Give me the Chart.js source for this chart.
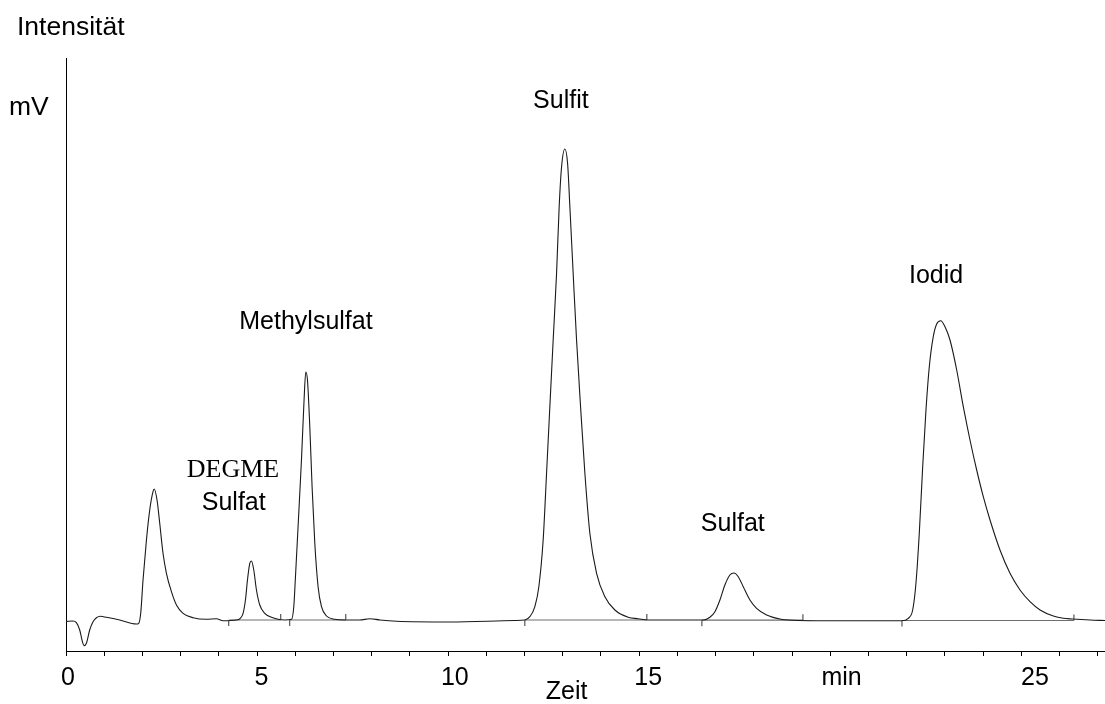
<!DOCTYPE html>
<html>
<head>
<meta charset="utf-8">
<title>Ionenchromatogramm</title>
<script src="https://cdn.jsdelivr.net/npm/chart.js@4.4.1/dist/chart.umd.min.js"></script>
<style>
  html, body { margin: 0; padding: 0; background: #fff; }
  #wrap { width: 1105px; height: 704px; }
</style>
</head>
<body>
<div id="wrap"><canvas id="chart" width="1105" height="704"></canvas></div>
<script>
// Retention time (min) and detector signal (mV) of the chromatogram trace
const timeMin = [
  0.000, 0.183, 0.272, 0.359, 0.429, 0.471, 0.534, 0.620, 0.707, 0.796,
  0.901, 1.058, 1.406, 1.843, 1.903, 1.955, 2.016, 2.105, 2.191, 2.277,
  2.309, 2.382, 2.453, 2.539, 2.628, 2.759, 2.890, 3.063, 3.325, 3.675,
  3.937, 4.110, 4.461, 4.560, 4.634, 4.696, 4.749, 4.809, 4.853, 4.914,
  4.984, 5.071, 5.202, 5.377, 5.550, 5.725, 5.901, 5.961, 6.005, 6.073,
  6.162, 6.230, 6.275, 6.319, 6.380, 6.440, 6.511, 6.597, 6.686, 6.817,
  7.034, 7.296, 7.688, 7.950, 8.212, 8.649, 10.044, 11.746, 12.007, 12.139,
  12.270, 12.374, 12.487, 12.576, 12.662, 12.749, 12.838, 12.906, 12.969, 13.055,
  13.126, 13.186, 13.272, 13.361, 13.466, 13.579, 13.709, 13.885, 14.102, 14.364,
  14.712, 14.974, 15.236, 16.589, 16.675, 16.851, 16.982, 17.113, 17.243, 17.374,
  17.479, 17.592, 17.723, 17.898, 18.073, 18.335, 18.683, 19.031, 19.644, 20.777,
  21.869, 22.042, 22.157, 22.243, 22.330, 22.419, 22.505, 22.592, 22.696, 22.785,
  22.890, 23.003, 23.134, 23.309, 23.482, 23.657, 23.832, 24.005, 24.181, 24.442,
  24.704, 24.966, 25.228, 25.490, 25.838, 26.099, 26.335, 26.798, 27.190
];
const signalMV = [
  -0.05, 0.00, -0.17, -0.90, -2.07, -2.47, -2.23, -0.90, -0.07, 0.33,
  0.47, 0.37, 0.10, -0.30, -0.23, 0.77, 4.10, 8.10, 11.10, 12.93,
  13.20, 12.10, 9.77, 6.77, 4.77, 2.93, 1.60, 0.77, 0.33, 0.17,
  0.23, 0.03, 0.10, 0.27, 0.77, 2.10, 4.10, 5.77, 6.00, 5.10,
  3.10, 1.60, 0.77, 0.37, 0.17, 0.10, 0.17, 1.43, 4.43, 9.43,
  16.10, 22.10, 24.90, 24.10, 19.43, 13.43, 7.77, 3.43, 1.43, 0.50,
  0.17, 0.10, 0.10, 0.23, 0.10, -0.03, -0.10, 0.05, 0.10, 0.43,
  1.43, 3.43, 8.10, 14.77, 21.43, 28.10, 34.77, 41.43, 45.43, 47.20,
  45.77, 41.43, 34.77, 28.10, 21.43, 14.77, 8.77, 4.77, 2.43, 1.10,
  0.37, 0.23, 0.10, 0.10, 0.10, 0.37, 0.93, 2.10, 3.60, 4.60,
  4.80, 4.43, 3.43, 2.10, 1.27, 0.60, 0.20, 0.07, 0.03, 0.03,
  0.03, 0.27, 1.10, 3.77, 8.77, 15.43, 21.10, 25.43, 28.43, 29.70,
  30.03, 29.43, 28.10, 25.10, 21.43, 18.10, 15.10, 12.43, 10.10, 7.10,
  4.77, 3.10, 1.93, 1.10, 0.50, 0.27, 0.20, 0.10, 0.05
];

// Integration limits of the evaluated peaks (min) and baseline level (mV)
const peakStart = [4.259, 5.855, 12.008, 16.641, 21.877];
const peakEnd   = [5.620, 7.322, 15.201, 19.285, 26.377];
const baseLevel = [0.10, 0.10, 0.10, 0.08, 0.05];

// Peak names and where they are written (min, mV)
const peakNames  = ['DEGME', 'Sulfat', 'Methylsulfat', 'Sulfit', 'Sulfat', 'Iodid'];
const nameTimes  = [4.37, 4.39, 6.28, 12.95, 17.45, 22.77];
const nameLevels = [15.1, 11.8, 29.9, 52.0, 9.7, 34.5];
const nameFonts  = ['serif', 'sans', 'sans', 'sans', 'sans', 'sans'];

// Time axis: minor tick every minute, labels on the printer's own label grid
const tickTimes  = [0, 5, 10, 15, 20, 25];
const tickTexts  = ['0', '5', '10', '15', 'min', '25'];

const X_MAX = 27.19;
// label grid of the printout runs slightly wider than the minute ticks
const LABEL_MIN = -0.052, LABEL_MAX = 26.81;
const Y_MIN = -3.0, Y_MAX = 56.3;

const SANS = '"Liberation Sans", Arial, sans-serif';
const SERIF = '"Liberation Serif", "Times New Roman", serif';

const trace = timeMin.map((t, i) => ({ x: t, y: signalMV[i] }));

// Integration baselines: one segment per peak, separated by gaps
const baselines = [];
peakStart.forEach((s, i) => {
  baselines.push({ x: s, y: baseLevel[i] });
  baselines.push({ x: peakEnd[i], y: baseLevel[i] });
  baselines.push({ x: peakEnd[i] + 0.001, y: null });
});

// Short markers: below the baseline at peak start, above it at peak end
const startMarks = peakStart.map((s, i) => ({ x: s, y: baseLevel[i] - 0.3 }));
const endMarks   = peakEnd.map((e, i) => ({ x: e, y: baseLevel[i] + 0.3 }));

function noSidePadding(scale) {
  scale.paddingLeft = 0;
  scale.paddingRight = 0;
}

const textPlugin = {
  id: 'chromLabels',
  afterDraw(chart) {
    const { ctx, scales } = chart;
    const xs = scales.x, ys = scales.y;
    ctx.save();
    ctx.fillStyle = '#000';
    ctx.textAlign = 'center';
    ctx.textBaseline = 'middle';
    peakNames.forEach((name, i) => {
      ctx.font = nameFonts[i] === 'serif' ? '26px ' + SERIF : '25px ' + SANS;
      ctx.fillText(name, xs.getPixelForValue(nameTimes[i]), ys.getPixelForValue(nameLevels[i]));
    });
    ctx.font = '25px ' + SANS;
    ctx.fillText('Zeit', xs.getPixelForValue(13.1), ys.getPixelForValue(-7.1));
    ctx.textAlign = 'left';
    ctx.font = '26.5px ' + SANS;
    ctx.fillText('Intensität', 17, 28);
    ctx.fillText('mV', 9, ys.getPixelForValue(51.3));
    ctx.restore();
  }
};

new Chart(document.getElementById('chart'), {
  type: 'line',
  data: {
    datasets: [
      {
        label: 'Signal',
        data: trace,
        borderColor: '#1a1a1a',
        borderWidth: 1.1,
        pointRadius: 0,
        cubicInterpolationMode: 'monotone',
        fill: false,
        order: 1
      },
      {
        label: 'Basislinie',
        data: baselines,
        borderColor: '#6e6e6e',
        borderWidth: 1.2,
        pointRadius: 0,
        spanGaps: false,
        fill: false,
        order: 2
      },
      {
        label: 'Peakbeginn',
        data: startMarks,
        showLine: false,
        pointStyle: 'line',
        rotation: 90,
        pointRadius: 3,
        borderColor: '#333',
        borderWidth: 1
      },
      {
        label: 'Peakende',
        data: endMarks,
        showLine: false,
        pointStyle: 'line',
        rotation: 90,
        pointRadius: 3,
        borderColor: '#333',
        borderWidth: 1
      }
    ]
  },
  options: {
    responsive: false,
    animation: false,
    events: [],
    layout: { autoPadding: false, padding: { left: 66, top: 58, right: 0, bottom: 0 } },
    plugins: {
      legend: { display: false },
      tooltip: { enabled: false },
      title: { display: false }
    },
    scales: {
      x: {
        type: 'linear',
        position: 'bottom',
        weight: 0,
        min: 0,
        max: X_MAX,
        afterBuildTicks(scale) {
          scale.ticks = [];
          for (let v = 0; v <= Math.floor(X_MAX); v++) scale.ticks.push({ value: v });
        },
        afterFit(scale) { scale.height = 5; noSidePadding(scale); },
        ticks: { display: false },
        grid: {
          drawOnChartArea: false,
          drawTicks: true,
          tickLength: 5,
          color: '#000',
          lineWidth: 1
        },
        border: { display: true, color: '#000', width: 1 }
      },
      xLabels: {
        type: 'linear',
        position: 'bottom',
        weight: 1,
        min: LABEL_MIN,
        max: LABEL_MAX,
        afterBuildTicks(scale) {
          scale.ticks = tickTimes.map(v => ({ value: v }));
        },
        afterFit(scale) { scale.height = 48; noSidePadding(scale); },
        ticks: {
          autoSkip: false,
          maxRotation: 0,
          padding: 7,
          color: '#000',
          font: { family: SANS, size: 25 },
          callback(value) {
            const k = tickTimes.indexOf(value);
            return k >= 0 ? tickTexts[k] : '';
          }
        },
        grid: { display: false, drawTicks: false },
        border: { display: false }
      },
      y: {
        type: 'linear',
        min: Y_MIN,
        max: Y_MAX,
        afterFit(scale) { scale.width = 0; },
        ticks: { display: false },
        grid: { drawOnChartArea: false, drawTicks: false },
        border: { display: true, color: '#000', width: 1 }
      }
    }
  },
  plugins: [textPlugin]
});
</script>
</body>
</html>
